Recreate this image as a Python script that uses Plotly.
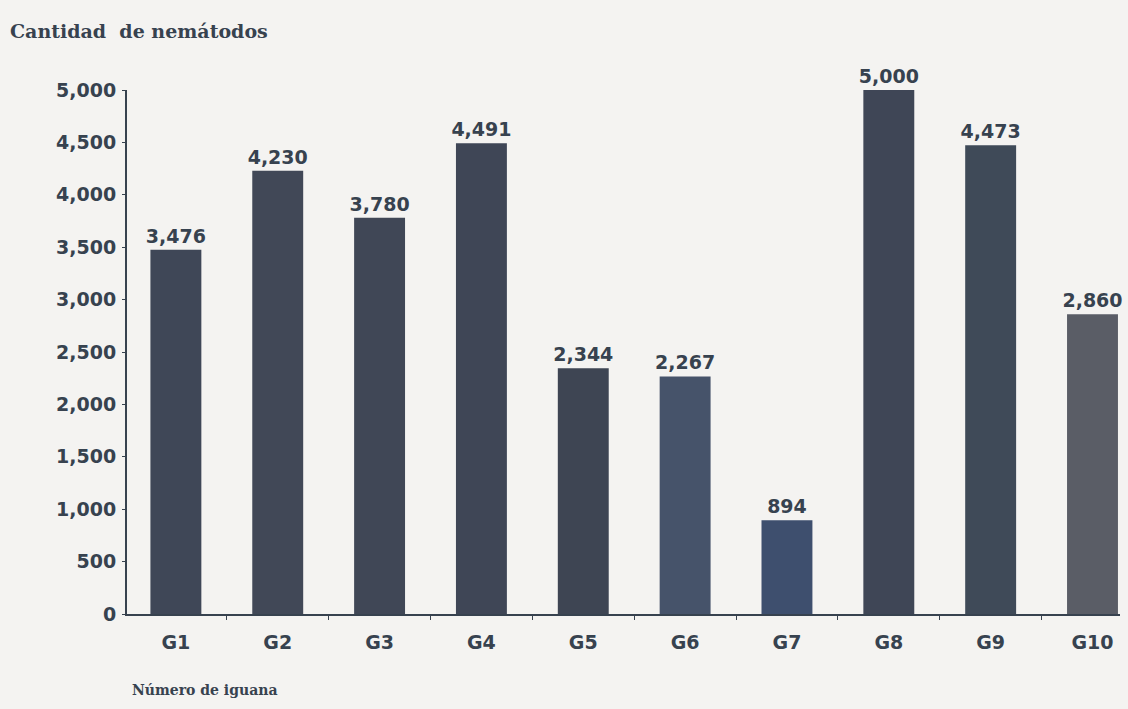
import plotly.graph_objects as go

categories = ["G1", "G2", "G3", "G4", "G5", "G6", "G7", "G8", "G9", "G10"]
values = [3476, 4230, 3780, 4491, 2344, 2267, 894, 5000, 4473, 2860]
bar_colors = ["#3f4757", "#414857", "#404756", "#3f4656", "#3e4553",
              "#46536a", "#3e4f6e", "#3f4656", "#3f4a58", "#5a5d66"]
y_ticks = list(range(0, 5001, 500))

ink = "#37424f"
bg = "#f4f3f1"
sans = "DejaVu Sans, Verdana, Arial"
serif = "DejaVu Serif, Liberation Serif"

fig = go.Figure(go.Bar(
    x=categories, y=values,
    marker=dict(color=bar_colors, line=dict(width=0)),
    text=[f"{v:,}" for v in values],
    textposition="outside",
    constraintext="none",
    textfont=dict(family=sans, size=19, color=ink, weight="bold"),
    cliponaxis=False,
    width=0.5,
))

fig.update_layout(
    width=1128, height=709,
    margin=dict(l=127, r=8, t=90, b=95),
    paper_bgcolor=bg, plot_bgcolor=bg,
    showlegend=False,
    xaxis=dict(
        type="category", range=[-0.48, 9.27],
        showline=True, linecolor=ink, linewidth=2,
        showgrid=False, ticks="outside", tickson="boundaries",
        ticklen=4, tickcolor=ink, tickwidth=1,
        tickfont=dict(family=sans, size=19, color=ink, weight="bold"),
        ticklabelstandoff=10,
    ),
    yaxis=dict(
        range=[0, 5000], tickvals=y_ticks, tickformat=",",
        showline=True, linecolor=ink, linewidth=2,
        showgrid=False, zeroline=False, ticks="outside", ticklen=3,
        tickcolor=ink,
        tickfont=dict(family=sans, size=19, color=ink, weight="bold"),
        ticklabelstandoff=2,
    ),
    annotations=[
        dict(text="<b>Cantidad  de nemátodos</b>", xref="paper", yref="paper",
             x=-119/993, y=1 + 59/524, xanchor="left", yanchor="middle",
             showarrow=False,
             font=dict(family=serif, size=19, color=ink)),
        dict(text="<b>Número de iguana</b>", xref="paper", yref="paper",
             x=3/993, y=-76/524, xanchor="left", yanchor="middle",
             showarrow=False,
             font=dict(family=serif, size=14, color=ink)),
    ],
)

fig.write_html("out.html")
